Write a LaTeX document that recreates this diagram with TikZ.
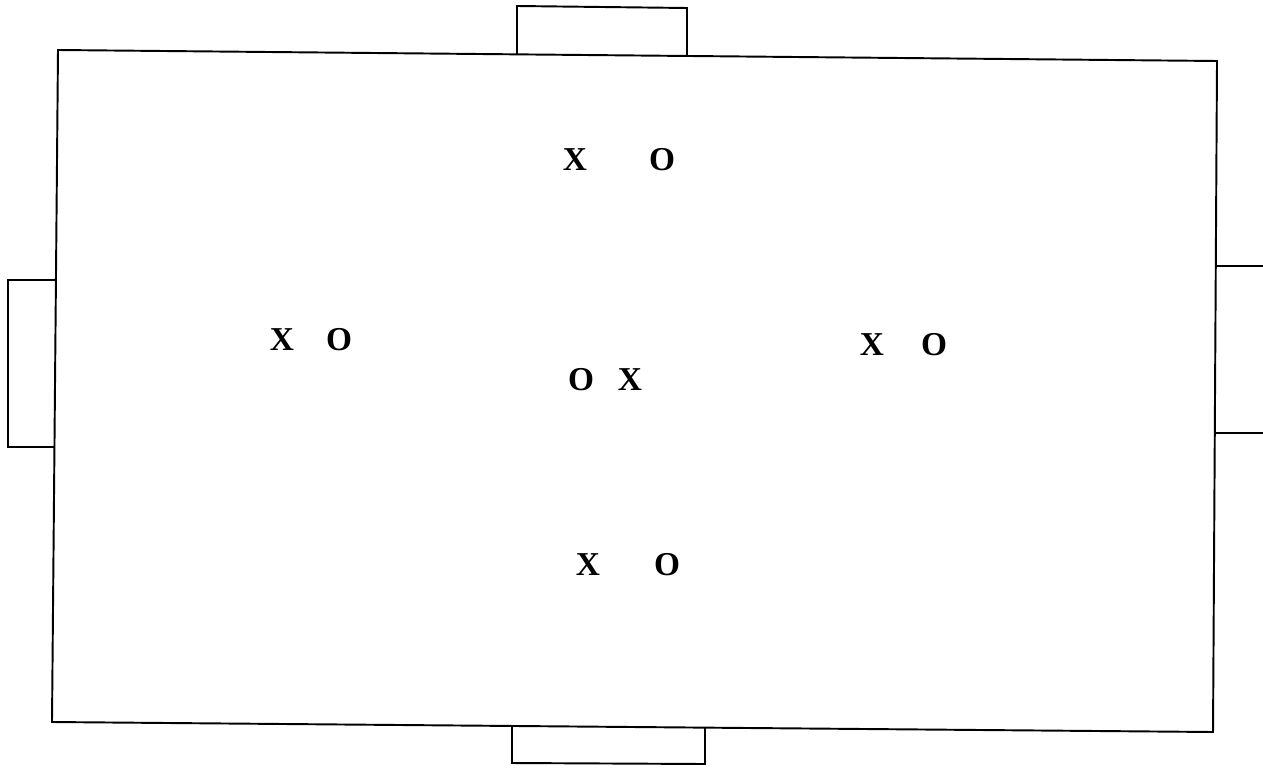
\documentclass[tikz,border=0pt]{standalone}
\usepackage{fontspec}
\setmainfont{Liberation Serif}
\usepackage{tikz}

\begin{document}
\begin{tikzpicture}[
    x=0.02cm, y=-0.02cm,
    line/.style={line width=1.1pt, line join=miter},
    player/.style={font=\fontsize{19}{21}\selectfont\bfseries, inner sep=0pt}
  ]
    \useasboundingbox (0,0) rectangle (1263,767);
    % pitch
    \draw[line] (58,50) -- (1217,61) -- (1213,732) -- (52,722) -- cycle;
    % goals
    \draw[line] (517,55) -- (517,6) -- (687,8) -- (687,56);
    \draw[line] (512,726) -- (512,763) -- (705,764) -- (705,728);
    \draw[line] (55,280) -- (8,280) -- (8,447) -- (54,447);
    \draw[line] (1216,266) -- (1263,266);
    \draw[line] (1215,433) -- (1263,433);
    % players
    \node[player] (topx) at (575,160) {X};
    \node[player] (topo) at (662,160) {O};
    \node[player] (leftx) at (282,340) {X};
    \node[player] (lefto) at (339,340) {O};
    \node[player] (midx) at (630,380) {X};
    \node[player] (mido) at (581,380) {O};
    \node[player] (rightx) at (872,345) {X};
    \node[player] (righto) at (934,345) {O};
    \node[player] (botx) at (588,565) {X};
    \node[player] (boto) at (667,565) {O};
  \end{tikzpicture}
\end{document}
